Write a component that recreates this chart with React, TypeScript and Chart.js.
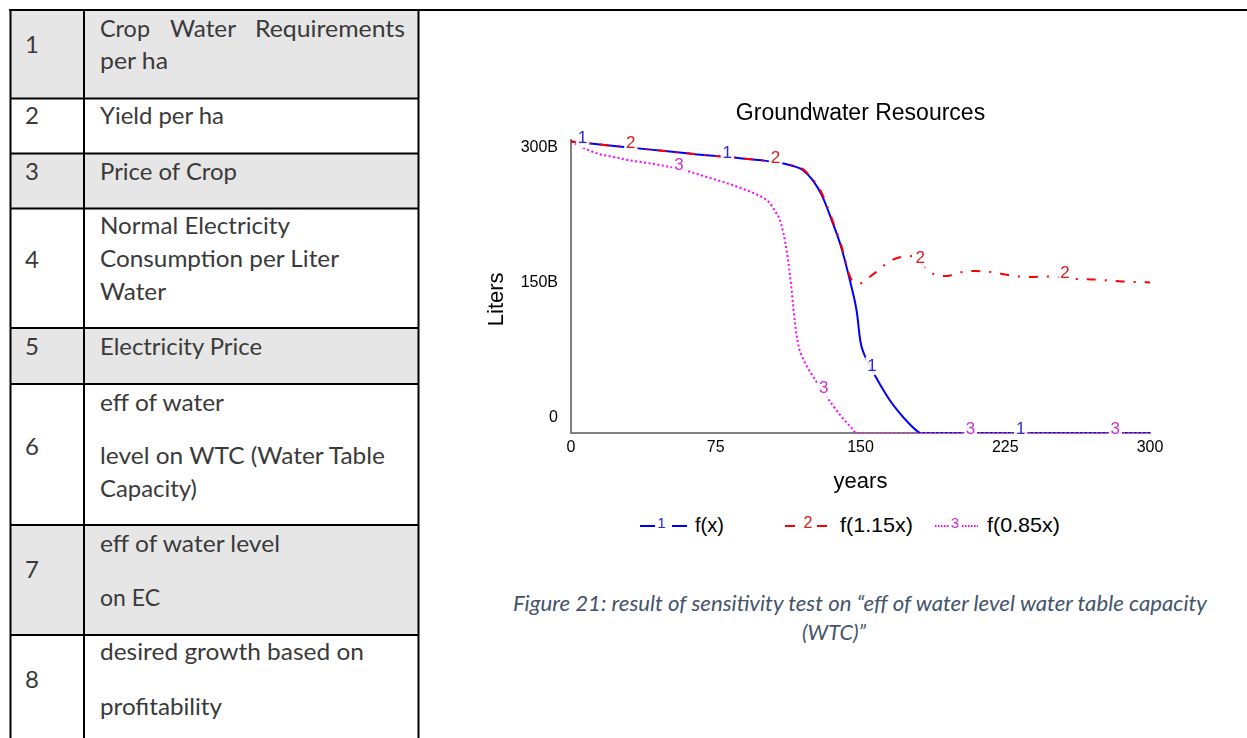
import React, { useEffect, useRef } from "react";
import { Chart, registerables } from "chart.js";

Chart.register(...registerables);

// ---------------- chart data ----------------
const xTickValues = [0, 75, 150, 225, 300];
const yTickValues = [0, 150, 300];
const yTickLabels = ["0", "150B", "300B"];

const fxYears = [0, 5, 10, 15, 20, 30, 40, 50, 60, 70, 80, 90, 100, 110, 115, 120, 125, 130, 135, 140, 145, 148, 150, 152, 155, 160, 165, 170, 175, 180, 181, 200, 250, 300];
const fxValues = [298, 297, 296, 295, 294, 292, 290, 288, 286, 284, 282.5, 280.5, 278.5, 275.5, 273, 269, 259, 243, 218, 190, 152, 125, 93, 80, 68, 50, 34, 21, 10, 1, 0, 0, 0, 0];

const f115Years = [0, 5, 10, 15, 20, 30, 40, 50, 60, 70, 80, 90, 100, 110, 115, 120, 125, 130, 135, 140, 145, 148, 150, 152, 155, 158, 162, 166, 170, 175, 178, 182, 186, 190, 195, 200, 205, 210, 215, 220, 225, 230, 235, 240, 245, 250, 255, 260, 265, 270, 275, 280, 285, 290, 300];
const f115Values = [298, 297, 296, 295, 294, 292, 290, 288, 286, 284, 282.5, 280.5, 278.5, 275.5, 273.5, 270, 260, 245, 220, 192, 158, 154, 153, 156, 160, 164.5, 171, 176.5, 179.5, 181, 180, 173, 165, 161, 160.5, 163.5, 165.2, 165.6, 165, 164, 162, 160.5, 159.6, 159.5, 160, 160, 159, 157.8, 157.2, 157, 156.5, 155.7, 155, 154.6, 154];

const f085Years = [0, 5, 10, 15, 20, 30, 40, 50, 60, 70, 80, 90, 95, 100, 103, 106, 108, 110, 112, 114, 116, 118, 120, 122.5, 125, 130, 135, 140, 145, 148, 200, 250, 300];
const f085Values = [298, 293, 288.5, 285, 283, 279, 276, 272.5, 268, 262, 256, 249, 245, 240, 235, 226, 219, 205, 183, 152, 113, 88, 77, 67, 59, 44, 30, 17, 6, 0, 0, 0, 0];

const seriesNames = ["f(x)", "f(1.15x)", "f(0.85x)"];
const seriesTags = ["1", "2", "3"];
const fxTagYears = [6, 81, 156, 233];
const f115TagYears = [31, 106, 181, 256];
const f085TagYears = [56, 131, 207, 282];

const chartTitle = "Groundwater Resources";
const xTitle = "years";
const yTitle = "Liters";

// ---------------- table / caption text ----------------
const tableNumbers = ["1", "2", "3", "4", "5", "6", "7", "8"];
const tableLines = [
  ["Crop Water Requirements", "per ha"],
  ["Yield per ha"],
  ["Price of Crop"],
  ["Normal Electricity", "Consumption per Liter", "Water"],
  ["Electricity Price"],
  ["eff of water", "level on WTC (Water Table", "Capacity)"],
  ["eff of water level", "on EC"],
  ["desired growth based on", "profitability"],
];
const captionLines = [
  "Figure 21: result of sensitivity test on \u201ceff of water level water table capacity",
  "(WTC)\u201d",
];

// ---------------- layout (positions/styles) ----------------
const FONT = '"Liberation Sans", Arial, Helvetica, sans-serif';
const TFONT = 'Lato, "Open Sans", "Noto Sans", sans-serif';
const COLORS = ["#0000ff", "#ff0000", "#ff00ff"];
const TAG_COLORS = ["#2a2ad6", "#d42222", "#cc33cc"];
const ROW_TOPS = [10, 98.5, 153.5, 208.5, 328, 384, 525, 635, 745];
const LINE_BASELINES = [[37, 69], [124], [180], [234, 267, 300], [355], [411, 464, 497], [552, 606], [660, 715]];
const LINE_WIDTHS = [[0, 68], [124], [137], [190, 239, 66], [162], [124, 285, 97], [180, 60], [264, 122]];
const NUM_BASELINES = [53, 124, 180, 268, 355, 455, 578, 688];
const JUSTIFY_WORDS = [
  { x: 100, w: 50 },
  { x: 170, w: 66 },
  { x: 255, w: 150 },
];

function interp(xs: number[], vs: number[], t: number) {
  for (let i = 1; i < xs.length; i++) {
    if (t <= xs[i]) {
      const f = (t - xs[i - 1]) / (xs[i] - xs[i - 1]);
      return vs[i - 1] + f * (vs[i] - vs[i - 1]);
    }
  }
  return vs[vs.length - 1];
}

const SERIES = [
  { xs: fxYears, vs: fxValues, tags: fxTagYears },
  { xs: f115Years, vs: f115Values, tags: f115TagYears },
  { xs: f085Years, vs: f085Values, tags: f085TagYears },
];

const tagPlugin = {
  id: "seriesTags",
  afterDatasetsDraw(chart: any) {
    const { ctx, scales } = chart;
    const x = scales.x;
    const y = scales.y;
    ctx.save();
    ctx.font = `17px ${FONT}`;
    ctx.textAlign = "center";
    ctx.textBaseline = "middle";
    SERIES.forEach((s, i) => {
      s.tags.forEach((t) => {
        const v = interp(s.xs, s.vs, t);
        const px = x.getPixelForValue(t);
        const py = y.getPixelForValue(v) - 4;
        const w = ctx.measureText(seriesTags[i]).width;
        ctx.fillStyle = "rgba(255,255,255,0.9)";
        ctx.fillRect(px - w / 2 - 2, py - 9, w + 4, 18);
        ctx.fillStyle = TAG_COLORS[i];
        ctx.fillText(seriesTags[i], px, py);
      });
    });
    ctx.restore();
  },
};

const axisTextPlugin = {
  id: "axisText",
  afterDraw(chart: any) {
    const { ctx, chartArea } = chart;
    const y = chart.scales.y;
    ctx.save();
    ctx.fillStyle = "#000";
    ctx.font = `16px ${FONT}`;
    ctx.textAlign = "right";
    ctx.textBaseline = "middle";
    yTickValues.forEach((v, i) => {
      const py = y.getPixelForValue(v);
      const shift = v === y.max ? 8 : v === y.min ? -15 : -4;
      ctx.fillText(yTickLabels[i], chartArea.left - 13, py + shift);
    });
    ctx.translate(chartArea.left - 74, (chartArea.top + chartArea.bottom) / 2 + 13);
    ctx.rotate(-Math.PI / 2);
    ctx.textAlign = "center";
    ctx.font = `22px ${FONT}`;
    ctx.fillText(yTitle, 0, 0);
    ctx.restore();
  },
};

function GroundwaterChart() {
  const ref = useRef<HTMLCanvasElement | null>(null);
  useEffect(() => {
    if (!ref.current) return;
    const pts = (xs: number[], vs: number[]) => xs.map((x, i) => ({ x, y: vs[i] }));
    const chart = new Chart(ref.current, {
      type: "line",
      data: {
        datasets: [
          {
            label: seriesNames[0],
            data: pts(fxYears, fxValues),
            borderColor: COLORS[0],
            borderWidth: 2,
            pointRadius: 0,
            cubicInterpolationMode: "monotone",
            order: 3,
          },
          {
            label: seriesNames[1],
            data: pts(f115Years, f115Values),
            borderColor: COLORS[1],
            borderWidth: 2,
            borderDash: [9, 9, 2, 9],
            pointRadius: 0,
            cubicInterpolationMode: "monotone",
            order: 1,
          },
          {
            label: seriesNames[2],
            data: pts(f085Years, f085Values),
            borderColor: COLORS[2],
            borderWidth: 2,
            borderDash: [2, 2.5],
            pointRadius: 0,
            cubicInterpolationMode: "monotone",
            order: 2,
          },
        ],
      },
      options: {
        animation: false,
        responsive: false,
        layout: { padding: { left: 0, right: 30, top: 0, bottom: 0 } },
        plugins: {
          legend: { display: false },
          tooltip: { enabled: false },
          title: {
            display: true,
            text: chartTitle,
            color: "#000",
            font: { family: FONT, size: 23, weight: "normal" },
            padding: { top: 15, bottom: 12 },
            fullSize: false,
          },
        },
        scales: {
          x: {
            type: "linear",
            min: 0,
            max: 300,
            afterFit: (s: any) => {
              s.height = 66;
            },
            afterBuildTicks: (s: any) => {
              s.ticks = xTickValues.map((v) => ({ value: v }));
            },
            grid: { display: false, drawTicks: false },
            border: { display: true, color: "#808080", width: 2 },
            ticks: {
              font: { family: FONT, size: 16 },
              color: "#000",
              padding: 5,
              maxRotation: 0,
              autoSkip: false,
            },
            title: {
              display: true,
              text: xTitle,
              color: "#000",
              font: { family: FONT, size: 22 },
              padding: { top: 0, bottom: 4 },
            },
          },
          y: {
            type: "linear",
            min: 0,
            max: 300,
            afterFit: (s: any) => {
              s.width = 131;
            },
            afterBuildTicks: (s: any) => {
              s.ticks = yTickValues.map((v) => ({ value: v }));
            },
            grid: { display: false, drawTicks: false },
            border: { display: true, color: "#808080", width: 2 },
            ticks: { display: false },
          },
        },
      } as any,
      plugins: [tagPlugin, axisTextPlugin],
    });
    return () => chart.destroy();
  }, []);
  return (
    <canvas
      ref={ref}
      width={740}
      height={414}
      style={{ position: "absolute", left: 440, top: 85, width: 740, height: 414 }}
    />
  );
}

export default function App() {
  const textFill = "#3a3a3a";
  return (
    <div
      style={{
        position: "fixed",
        left: 0,
        top: 0,
        width: 1247,
        height: 738,
        background: "#fff",
        overflow: "hidden",
      }}
    >
      <svg width={1247} height={738} style={{ position: "absolute", left: 0, top: 0 }}>
        {ROW_TOPS.slice(0, 8).map((t, i) => (
          <rect
            key={"bg" + i}
            x={10}
            y={t}
            width={408.5}
            height={ROW_TOPS[i + 1] - t}
            fill={i % 2 === 0 ? "#e7e6e6" : "#ffffff"}
          />
        ))}
        <line x1={9} y1={10} x2={1247} y2={10} stroke="#000" strokeWidth={2} />
        {ROW_TOPS.slice(1, 8).map((t, i) => (
          <line key={"h" + i} x1={10} y1={t} x2={419} y2={t} stroke="#000" strokeWidth={2} />
        ))}
        <line x1={10.5} y1={10} x2={10.5} y2={745} stroke="#000" strokeWidth={2} />
        <line x1={84} y1={10} x2={84} y2={745} stroke="#000" strokeWidth={2} />
        <line x1={418.5} y1={10} x2={418.5} y2={745} stroke="#000" strokeWidth={2} />
        {tableNumbers.map((n, i) => (
          <text key={"n" + i} x={25} y={NUM_BASELINES[i]} fontFamily={TFONT} fontSize={24} fill={textFill}>
            {n}
          </text>
        ))}
        {tableLines.map((lines, r) =>
          lines.map((ln, k) => {
            if (r === 0 && k === 0) {
              return ln.split(" ").map((w, j) => (
                <text
                  key={`t${r}-${k}-${j}`}
                  x={JUSTIFY_WORDS[j].x}
                  y={LINE_BASELINES[r][k]}
                  fontFamily={TFONT}
                  fontSize={24}
                  fill={textFill}
                  textLength={JUSTIFY_WORDS[j].w}
                  lengthAdjust="spacingAndGlyphs"
                >
                  {w}
                </text>
              ));
            }
            return (
              <text
                key={`t${r}-${k}`}
                x={100}
                y={LINE_BASELINES[r][k]}
                fontFamily={TFONT}
                fontSize={24}
                fill={textFill}
                textLength={LINE_WIDTHS[r][k]}
                lengthAdjust="spacingAndGlyphs"
              >
                {ln}
              </text>
            );
          })
        )}
        {/* caption */}
        <text
          x={513}
          y={611}
          fontFamily={TFONT}
          fontStyle="italic"
          fontSize={21}
          fill="#44546a"
          textLength={694}
          lengthAdjust="spacingAndGlyphs"
        >
          {captionLines[0]}
        </text>
        <text
          x={834}
          y={640}
          textAnchor="middle"
          fontFamily={TFONT}
          fontStyle="italic"
          fontSize={21}
          fill="#44546a"
          textLength={64}
          lengthAdjust="spacingAndGlyphs"
        >
          {captionLines[1]}
        </text>
        {/* legend */}
        <line x1={640} y1={526} x2={655} y2={526} stroke={COLORS[0]} strokeWidth={2} />
        <text x={661.5} y={527.5} textAnchor="middle" fontFamily={FONT} fontSize={15} fill={TAG_COLORS[0]}>
          {seriesTags[0]}
        </text>
        <line x1={672} y1={526} x2={687} y2={526} stroke={COLORS[0]} strokeWidth={2} />
        <text x={695} y={531.5} fontFamily={FONT} fontSize={21} fill="#000" textLength={29} lengthAdjust="spacingAndGlyphs">
          {seriesNames[0]}
        </text>
        <line x1={785} y1={526} x2={795} y2={526} stroke={COLORS[1]} strokeWidth={2} />
        <text x={808} y={527.5} textAnchor="middle" fontFamily={FONT} fontSize={16} fill={TAG_COLORS[1]}>
          {seriesTags[1]}
        </text>
        <line x1={817} y1={526} x2={827} y2={526} stroke={COLORS[1]} strokeWidth={2} />
        <text x={840} y={531.5} fontFamily={FONT} fontSize={21} fill="#000" textLength={73} lengthAdjust="spacingAndGlyphs">
          {seriesNames[1]}
        </text>
        <line x1={935} y1={526} x2={950} y2={526} stroke={COLORS[2]} strokeWidth={2} strokeDasharray="1.5 1.5" />
        <text x={955} y={527.5} textAnchor="middle" fontFamily={FONT} fontSize={15} fill={TAG_COLORS[2]}>
          {seriesTags[2]}
        </text>
        <line x1={962} y1={526} x2={978} y2={526} stroke={COLORS[2]} strokeWidth={2} strokeDasharray="1.5 1.5" />
        <text x={987} y={531.5} fontFamily={FONT} fontSize={21} fill="#000" textLength={73} lengthAdjust="spacingAndGlyphs">
          {seriesNames[2]}
        </text>
      </svg>
      <GroundwaterChart />
    </div>
  );
}
